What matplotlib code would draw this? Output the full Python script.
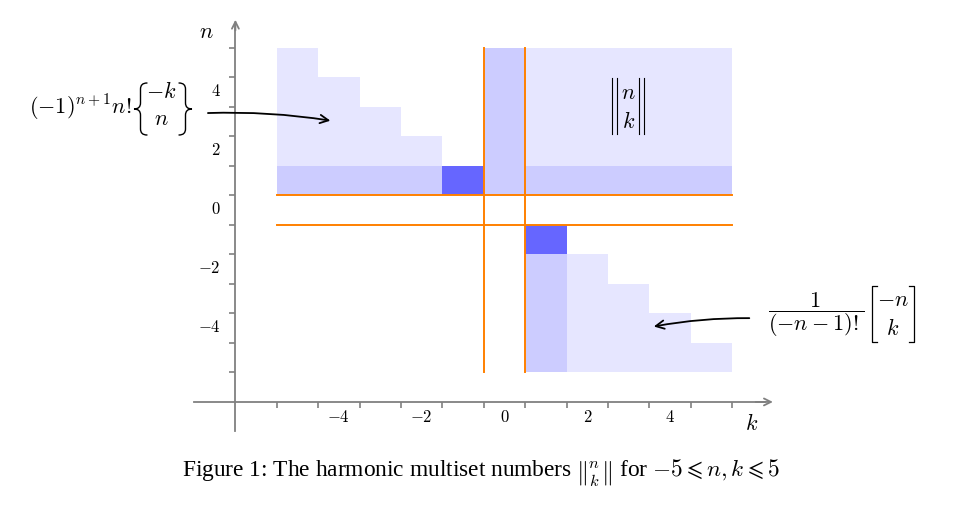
import numpy as np
import matplotlib
matplotlib.use('Agg')
import matplotlib.pyplot as plt
import matplotlib.transforms as mtransforms
from matplotlib.colors import ListedColormap
from matplotlib.patches import FancyArrowPatch, PathPatch
from matplotlib.path import Path

plt.rcParams['mathtext.fontset'] = 'cm'
plt.rcParams['font.family'] = ['Liberation Serif', 'DejaVu Serif']

# Valores de la rejilla: k y n de -5 a 5
k_vals = np.arange(-5, 6)
n_vals = np.arange(-5, 6)

# Nivel de sombreado de cada celda (0 blanco, 1 claro, 2 medio, 3 oscuro)
# filas de n = -5 (abajo) a n = 5 (arriba), columnas k = -5 .. 5
sombra = np.array([
    [0, 0, 0, 0, 0, 0, 2, 1, 1, 1, 1],   # n = -5
    [0, 0, 0, 0, 0, 0, 2, 1, 1, 1, 0],   # n = -4
    [0, 0, 0, 0, 0, 0, 2, 1, 1, 0, 0],   # n = -3
    [0, 0, 0, 0, 0, 0, 2, 1, 0, 0, 0],   # n = -2
    [0, 0, 0, 0, 0, 0, 3, 0, 0, 0, 0],   # n = -1
    [0, 0, 0, 0, 0, 0, 0, 0, 0, 0, 0],   # n = 0
    [2, 2, 2, 2, 3, 2, 2, 2, 2, 2, 2],   # n = 1
    [1, 1, 1, 1, 0, 2, 1, 1, 1, 1, 1],   # n = 2
    [1, 1, 1, 0, 0, 2, 1, 1, 1, 1, 1],   # n = 3
    [1, 1, 0, 0, 0, 2, 1, 1, 1, 1, 1],   # n = 4
    [1, 0, 0, 0, 0, 2, 1, 1, 1, 1, 1],   # n = 5
])
colores = ['#FFFFFF', '#E6E6FF', '#CCCCFF', '#6666FF']

# Separadores naranjas
separadores = [-0.5, 0.5]

# Etiquetas de los ejes
x_etiquetas = [-4, -2, 0, 2, 4]
y_etiquetas = [-4, -2, 0, 2, 4]

fig = plt.figure(figsize=(9.58, 5.08), dpi=100)
ax = fig.add_axes([0, 0, 1, 1])
ax.set_xlim(-12.186, 10.954)
ax.set_ylim(-10.095, 7.125)
ax.axis('off')

# transformacion en pixeles (origen arriba a la izquierda) para las formulas
px = mtransforms.Affine2D().scale(1, -1).translate(0, 508)

# Celdas
bordes_k = np.append(k_vals - 0.5, k_vals[-1] + 0.5)
bordes_n = np.append(n_vals - 0.5, n_vals[-1] + 0.5)
masc = np.ma.masked_equal(sombra, 0)
ax.pcolormesh(bordes_k, bordes_n, masc, cmap=ListedColormap(colores),
              vmin=-0.5, vmax=3.5, zorder=1, edgecolors='none')

# Lineas naranjas
lo, hi = bordes_k[0], bordes_k[-1]
for s in separadores:
    ax.plot([lo, hi], [s, s], color='#FF8000', lw=1.4, zorder=2)
    ax.plot([s, s], [bordes_n[0], bordes_n[-1]], color='#FF8000', lw=1.4, zorder=2)

# Ejes grises con flecha
gris = '#808080'
eje_x0 = -6.5
eje_y0 = -6.5
ax.plot([-7.5, 6.3], [eje_y0, eje_y0], color=gris, lw=1.3, zorder=3)
ax.plot([eje_x0, eje_x0], [-7.5, 6.3], color=gris, lw=1.3, zorder=3)
ax.annotate('', xy=(6.55, eje_y0), xytext=(6.0, eje_y0),
            arrowprops=dict(arrowstyle='->,head_length=0.5,head_width=0.25', color=gris, lw=1.3))
ax.annotate('', xy=(eje_x0, 6.55), xytext=(eje_x0, 6.0),
            arrowprops=dict(arrowstyle='->,head_length=0.5,head_width=0.25', color=gris, lw=1.3))

# Marcas en medios enteros
ax.plot(bordes_k, [eje_y0] * len(bordes_k), ls='none', marker=3, ms=4, mew=1.2, color=gris, zorder=3)
ax.plot([eje_x0] * len(bordes_n), bordes_n, ls='none', marker=0, ms=4, mew=1.2, color=gris, zorder=3)

for v in x_etiquetas:
    ax.text(v, -7.04, f'${v}$', ha='center', va='center', fontsize=12)
for v in y_etiquetas:
    ax.text(-6.85, v, f'${v}$', ha='right', va='center', fontsize=12)

ax.text(-7.19, 6.0, '$n$', ha='center', va='center', fontsize=16)
ax.text(5.98, -7.28, '$k$', ha='center', va='center', fontsize=16)


def llave(x_punta, x_fin, y_arr, y_abj):
    # llave vertical dibujada con curvas; la punta mira hacia x_punta
    xm = (x_punta + x_fin) / 2
    yc = (y_arr + y_abj) / 2
    r = 6
    verts = [(x_fin, y_arr), (xm, y_arr), (xm, y_arr + r),
             (xm, yc - r), (xm, yc), (x_punta, yc),
             (xm, yc), (xm, yc + r),
             (xm, y_abj - r), (xm, y_abj), (x_fin, y_abj)]
    codes = [Path.MOVETO, Path.CURVE3, Path.CURVE3,
             Path.LINETO, Path.CURVE3, Path.CURVE3,
             Path.CURVE3, Path.CURVE3,
             Path.LINETO, Path.CURVE3, Path.CURVE3]
    fig.add_artist(PathPatch(Path(verts, codes), fill=False, lw=1.0, ec='black',
                             transform=px, capstyle='round'))


def corchete(x_linea, x_serif, y_arr, y_abj):
    fig.add_artist(plt.Line2D([x_serif, x_linea, x_linea, x_serif], [y_arr, y_arr, y_abj, y_abj],
                              color='black', lw=0.9, transform=px))


def barra(x, y_arr, y_abj, lw=0.8):
    fig.add_artist(plt.Line2D([x, x], [y_arr, y_abj], color='black', lw=lw, transform=px))


# Anotacion izquierda: (-1)^{n+1} n! {-k, n}
fig.text(131, 114.5, r'$(-1)^{n+1}n!$', ha='right', va='baseline', fontsize=16, transform=px)
llave(134, 147, 83, 135)
fig.text(161.5, 98, r'$-k$', ha='center', va='baseline', fontsize=16, transform=px)
fig.text(161.5, 125, r'$n$', ha='center', va='baseline', fontsize=16, transform=px)
llave(192, 179, 83, 135)

# Anotacion derecha: 1/(-n-1)! [-n, k]
fig.text(816.5, 315, r'$\dfrac{1}{(-n-1)!}$', ha='center', va='center', fontsize=16, transform=px)
corchete(872, 877, 286, 342)
fig.text(893, 306, r'$-n$', ha='center', va='baseline', fontsize=16, transform=px)
fig.text(892.5, 335, r'$k$', ha='center', va='baseline', fontsize=16, transform=px)
corchete(914, 909, 286, 342)

# Simbolo dentro de la region superior derecha
for xb in [612.3, 617.3, 638.8, 643.8]:
    barra(xb, 78, 134)
fig.text(628.5, 99, r'$n$', ha='center', va='baseline', fontsize=16, transform=px)
fig.text(628.8, 128, r'$k$', ha='center', va='baseline', fontsize=16, transform=px)

# Flechas de las anotaciones
flecha1 = FancyArrowPatch((-7.23, 3.29), (-4.14, 3.02), connectionstyle='arc3,rad=-0.05',
                          arrowstyle='->,head_length=6,head_width=3', color='black', lw=1.3, zorder=4)
flecha2 = FancyArrowPatch((5.98, -3.66), (3.54, -3.96), connectionstyle='arc3,rad=0.05',
                          arrowstyle='->,head_length=6,head_width=3', color='black', lw=1.3, zorder=4)
ax.add_patch(flecha1)
ax.add_patch(flecha2)

# Pie de figura
fig.text(0.5016, 0.069,
         r'Figure 1: The harmonic multiset numbers $\genfrac{\|}{\|}{0}{1}{n}{k}$ for $-5 \leqslant n, k \leqslant 5$',
         ha='center', va='center', fontsize=16.8)

fig.savefig('out.png', dpi=100)
